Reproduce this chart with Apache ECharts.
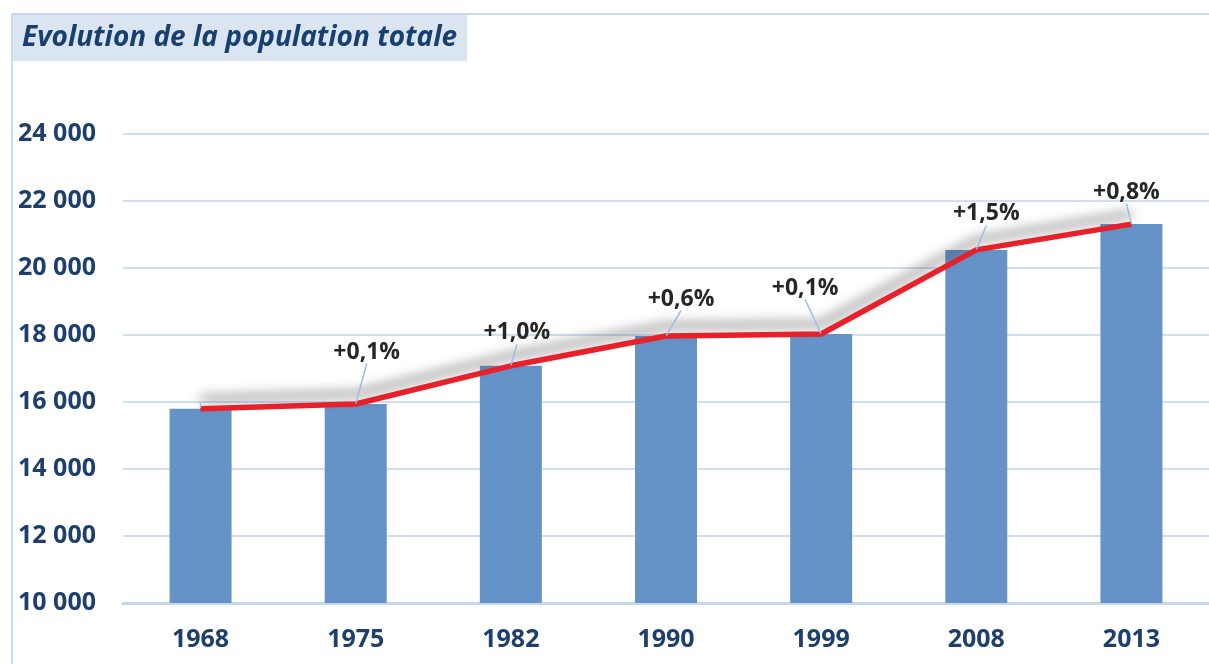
<!DOCTYPE html>
<html>
<head>
<meta charset="utf-8">
<script src="https://cdn.jsdelivr.net/npm/echarts@6/dist/echarts.min.js"></script>
<style>
  html, body { margin: 0; padding: 0; background: #fff; }
  #chart { width: 1209px; height: 664px; }
</style>
</head>
<body>
<div id="chart"></div>
<script>
// population by census year
var years = ['1968', '1975', '1982', '1990', '1999', '2008', '2013'];
var population = [15800, 15940, 17080, 17970, 18030, 20540, 21310];
// annual growth labels (none on the first year)
var growthLabels = ['', '+0,1%', '+1,0%', '+0,6%', '+0,1%', '+1,5%', '+0,8%'];

// where each growth label sits relative to its point
var labelShift = [[0, 0], [11, -35], [6, -16], [15, -20], [-16, -29], [10, -19], [-5, -15]];

var blue = '#1c3f6e';

var myChart = echarts.init(document.getElementById('chart'));

var option = {
    animation: false,
    backgroundColor: '#ffffff',
    title: {
        text: 'Evolution de la population totale',
        left: 13,
        top: 15,
        padding: [9, 10, 9, 9],
        backgroundColor: '#dbe5f1',
        textStyle: {
            fontFamily: 'Open Sans',
            fontStyle: 'italic',
            fontWeight: 'bold',
            fontSize: 28,
            color: '#17406f'
        }
    },
    graphic: [
        { type: 'line', shape: { x1: 12, y1: 14, x2: 1209, y2: 14 }, style: { stroke: '#c9daf0', lineWidth: 2 }, z: -1 },
        { type: 'line', shape: { x1: 12, y1: 14, x2: 12, y2: 664 }, style: { stroke: '#c9daf0', lineWidth: 2 }, z: -1 }
    ],
    grid: {
        left: 123,
        width: 1092,
        top: 134,
        bottom: 61
    },
    xAxis: {
        type: 'category',
        data: years,
        axisLine: { lineStyle: { color: '#c5d8ef', width: 3 } },
        axisTick: { show: false },
        axisLabel: {
            margin: 24,
            fontFamily: 'Open Sans',
            fontWeight: 'bold',
            fontSize: 25,
            color: blue
        }
    },
    yAxis: {
        type: 'value',
        min: 10000,
        max: 24000,
        interval: 2000,
        axisLine: { show: false },
        axisTick: { show: false },
        splitLine: { lineStyle: { color: '#cfdff2', width: 2 } },
        axisLabel: {
            margin: 27,
            fontFamily: 'Open Sans',
            fontWeight: 'bold',
            fontSize: 25,
            color: blue,
            formatter: function (v) {
                return String(v).replace(/\B(?=(\d{3})+(?!\d))/g, ' ');
            }
        }
    },
    series: [
        {
            type: 'bar',
            data: population,
            barWidth: 62,
            itemStyle: { color: '#6593c7' },
            z: 2
        },
        {
            type: 'line',
            data: population,
            symbol: 'circle',
            symbolSize: 1,
            itemStyle: { color: '#e8202a' },
            lineStyle: {
                color: '#e8202a',
                width: 5.5,
                shadowColor: 'rgba(50,50,50,0.6)',
                shadowBlur: 12,
                shadowOffsetY: -10
            },
            label: {
                show: true,
                position: 'top',
                distance: 5,
                fontFamily: 'Open Sans',
                fontWeight: 'bold',
                fontSize: 23,
                color: '#262626',
                formatter: function (p) { return growthLabels[p.dataIndex]; }
            },
            labelLine: {
                show: true,
                lineStyle: { color: '#9dbde6', width: 1.5 }
            },
            labelLayout: function (p) {
                var s = labelShift[p.dataIndex];
                return { dx: s[0], dy: s[1] };
            },
            z: 3
        }
    ]
};

myChart.setOption(option);
</script>
</body>
</html>
